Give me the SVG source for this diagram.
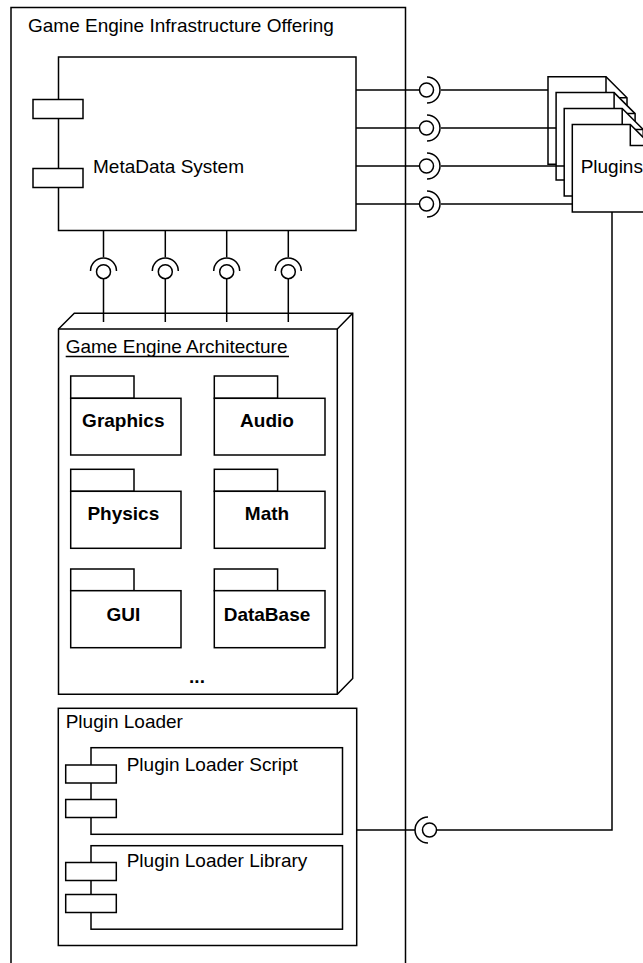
<svg xmlns="http://www.w3.org/2000/svg" width="643" height="963" viewBox="0 0 643 963">
<style>
.s{fill:#fff;stroke:#000;stroke-width:1.5}
.n{fill:none;stroke:#000;stroke-width:1.5}
.t{font-family:"Liberation Sans",Arial,sans-serif;font-size:19px;fill:#000}
.b{font-weight:bold;text-anchor:middle}
</style>
<rect width="643" height="963" fill="#fff"/>
<g id="offering">
<path class="n" d="M11,975 V7.5 H405.5 V975"/>
<text class="t" x="28" y="32">Game Engine Infrastructure Offering</text>
</g>
<g id="metadata">
<rect class="s" x="58.5" y="57" width="297.5" height="173.5"/>
<rect class="s" x="33" y="99.5" width="50" height="19"/>
<rect class="s" x="33" y="168.5" width="50" height="19"/>
<text class="t" x="93" y="173">MetaData System</text>
</g>
<g id="plugins">
<path class="s" d="M548,76.7 H606 L627,97.7 V164.2 H548 Z"/><path class="n" d="M606,76.7 V97.7 H627"/>
<path class="s" d="M556.1,92.6 H614.1 L635.1,113.6 V180.1 H556.1 Z"/><path class="n" d="M614.1,92.6 V113.6 H635.1"/>
<path class="s" d="M564.2,108.5 H622.2 L643.2,129.5 V196 H564.2 Z"/><path class="n" d="M622.2,108.5 V129.5 H643.2"/>
<path class="s" d="M572.3,124.4 H630.3 L651.3,145.4 V211.9 H572.3 Z"/><path class="n" d="M630.3,124.4 V145.4 H651.3"/>
<text class="t" x="611.8" y="172.5" text-anchor="middle">Plugins</text>
</g>
<g id="architecture">
<path class="s" d="M58.5,329 L74.3,313.3 H352.7 V678.5 L337.3,694.3 H58.5 Z"/>
<path class="n" d="M58.5,329 H337.3 V694.3 M337.3,329 L352.7,313.3"/>
<text class="t" x="65.7" y="353">Game Engine Architecture</text>
<line class="n" x1="65.7" y1="356.5" x2="289" y2="356.5"/>
<text class="t b" x="197" y="683">...</text>
</g>
<g id="pkg-graphics">
<rect class="s" x="70.7" y="376" width="63.3" height="22.3"/>
<rect class="s" x="70.7" y="398.3" width="110.3" height="56.7"/>
<text class="t b" x="123.3" y="427">Graphics</text>
</g>
<g id="pkg-audio">
<rect class="s" x="214.3" y="376" width="63.3" height="22.3"/>
<rect class="s" x="214.3" y="398.3" width="110.7" height="56.7"/>
<text class="t b" x="267" y="427">Audio</text>
</g>
<g id="pkg-physics">
<rect class="s" x="70.7" y="469.3" width="63.3" height="22"/>
<rect class="s" x="70.7" y="491.3" width="110.3" height="57"/>
<text class="t b" x="123.3" y="520.3">Physics</text>
</g>
<g id="pkg-math">
<rect class="s" x="214.3" y="469.3" width="63.3" height="22"/>
<rect class="s" x="214.3" y="491.3" width="110.7" height="57"/>
<text class="t b" x="267" y="520.3">Math</text>
</g>
<g id="pkg-gui">
<rect class="s" x="70.7" y="569" width="63.3" height="21.7"/>
<rect class="s" x="70.7" y="590.7" width="110.3" height="57"/>
<text class="t b" x="123.3" y="621">GUI</text>
</g>
<g id="pkg-database">
<rect class="s" x="214.3" y="569" width="63.3" height="21.7"/>
<rect class="s" x="214.3" y="590.7" width="110.7" height="57"/>
<text class="t b" x="267" y="621">DataBase</text>
</g>
<g id="plugin-loader">
<rect class="s" x="58.3" y="708.3" width="298.4" height="237.2"/>
<text class="t" x="65.7" y="727.7">Plugin Loader</text>
</g>
<g id="loader-script">
<rect class="s" x="91" y="747.7" width="251.5" height="86.6"/>
<rect class="s" x="65.7" y="765" width="50.6" height="18"/>
<rect class="s" x="65.7" y="799.5" width="50.6" height="18"/>
<text class="t" x="126.7" y="771">Plugin Loader Script</text>
</g>
<g id="loader-library">
<rect class="s" x="91" y="845.7" width="251.5" height="83.5"/>
<rect class="s" x="65.7" y="862.5" width="50.6" height="18"/>
<rect class="s" x="65.7" y="894.5" width="50.6" height="18"/>
<text class="t" x="126.7" y="866.7">Plugin Loader Library</text>
</g>
<g id="connectors">
<path class="n" d="M356,90 H419.5 M441,90 H548"/>
<circle class="n" cx="426.5" cy="90" r="7"/><path class="n" d="M427,77 A13,13 0 0 1 427,103"/>
<path class="n" d="M356,128 H419.5 M441,128 H556.1"/>
<circle class="n" cx="426.5" cy="128" r="7"/><path class="n" d="M427,115 A13,13 0 0 1 427,141"/>
<path class="n" d="M356,166 H419.5 M441,166 H564.2"/>
<circle class="n" cx="426.5" cy="166" r="7"/><path class="n" d="M427,153 A13,13 0 0 1 427,179"/>
<path class="n" d="M356,204 H419.5 M441,204 H572.3"/>
<circle class="n" cx="426.5" cy="204" r="7"/><path class="n" d="M427,191 A13,13 0 0 1 427,217"/>
<path class="n" d="M103.5,230.5 V257.3 M103.5,278.7 V322"/>
<path class="n" d="M90.5,271 A13,13 0 0 1 116.5,271"/><circle class="n" cx="103.5" cy="271.7" r="7"/>
<path class="n" d="M165.3,230.5 V257.3 M165.3,278.7 V322"/>
<path class="n" d="M152.3,271 A13,13 0 0 1 178.3,271"/><circle class="n" cx="165.3" cy="271.7" r="7"/>
<path class="n" d="M226.7,230.5 V257.3 M226.7,278.7 V322"/>
<path class="n" d="M213.7,271 A13,13 0 0 1 239.7,271"/><circle class="n" cx="226.7" cy="271.7" r="7"/>
<path class="n" d="M288.3,230.5 V257.3 M288.3,278.7 V322"/>
<path class="n" d="M275.3,271 A13,13 0 0 1 301.3,271"/><circle class="n" cx="288.3" cy="271.7" r="7"/>
<path class="n" d="M356.7,830 H415 M437,830 H612 V211.9"/>
<path class="n" d="M428,817 A13,13 0 0 0 428,843"/><circle class="n" cx="429.5" cy="830" r="7"/>
</g>
</svg>
